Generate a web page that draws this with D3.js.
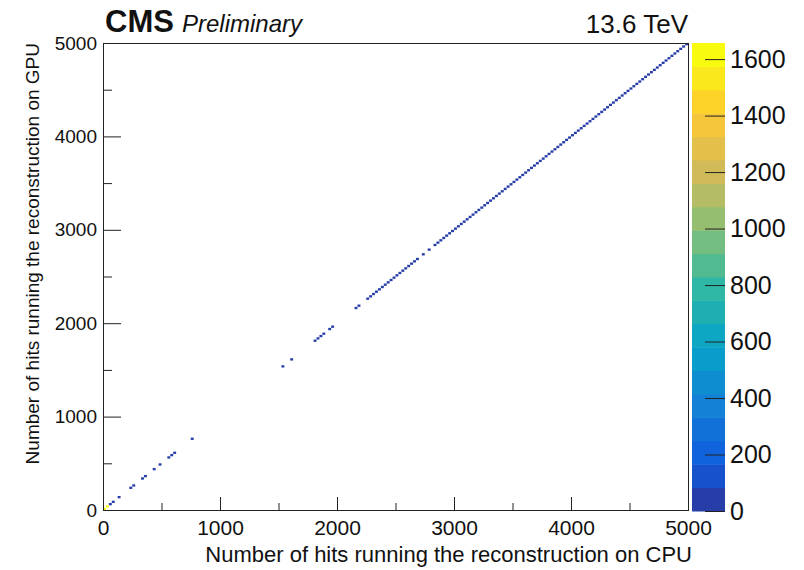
<!DOCTYPE html>
<html>
<head>
<meta charset="utf-8">
<script src="https://cdn.jsdelivr.net/npm/d3@7"></script>
<style>
	body { margin: 0; background: #fff; }
	text { font-family: "Liberation Sans", Arial, Helvetica, sans-serif; fill: #111; }
</style>
</head>
<body>
<div id="chart"></div>
<script>
// histogram binning (200 bins from 0 to 5000 hits on both axes)
const hitsRange = [0, 5000];
const binWidth = 25;

// occupied diagonal bins (bin index, CPU bin == GPU bin)
const occupiedBins = [
	2, 3, 5, 9, 10, 13, 14, 17, 19, 22, 23, 24, 30,
	61, 64, 72, 73, 74, 75, 77, 78, 86, 87,
	90, 91, 92, 93, 94, 95, 96, 97, 98, 99, 100, 101, 102, 103, 104, 105, 106, 107,
	109, 111,
	113, 114, 115, 116, 117, 118, 119, 120, 121, 122, 123, 124, 125, 126, 127, 128,
	129, 130, 131, 132, 133, 134, 135, 136, 137, 138, 139, 140, 141, 142, 143, 144,
	145, 146, 147, 148, 149, 150, 151, 152, 153, 154, 155, 156, 157, 158, 159, 160,
	161, 162, 163, 164, 165, 166, 167, 168, 169, 170, 171, 172, 173, 174, 175, 176,
	177, 178, 179, 180, 181, 182, 183, 184, 185, 186, 187, 188, 189, 190, 191, 192,
	193, 194, 195, 196, 197, 198, 199
];
const occupiedCount = 30;

// very full bins at the origin
const originBins = [0, 1];
const originCounts = [1657, 1600];

const xTicks = [0, 1000, 2000, 3000, 4000, 5000];
const xMinorTicks = [500, 1500, 2500, 3500, 4500];
const yTicks = [0, 1000, 2000, 3000, 4000, 5000];
const yMinorTicks = [500, 1500, 2500, 3500, 4500];

const zRange = [0, 1657];
const zTicks = [0, 200, 400, 600, 800, 1000, 1200, 1400, 1600];
const zLevels = 20;

// ROOT kBird palette
const birdStops = [0.0000, 0.1250, 0.2500, 0.3750, 0.5000, 0.6250, 0.7500, 0.8750, 1.0000];
const birdRed = [0.2082, 0.0592, 0.0780, 0.0232, 0.1802, 0.5301, 0.8186, 0.9956, 0.9764];
const birdGreen = [0.1664, 0.3599, 0.5041, 0.6419, 0.7178, 0.7492, 0.7328, 0.7862, 0.9832];
const birdBlue = [0.5293, 0.8684, 0.8385, 0.7914, 0.6425, 0.4662, 0.3499, 0.1968, 0.0539];

const LAYOUT = { LEFT: 103, TOP: 43, RIGHT: 688, BOTTOM: 510, BAR_LEFT: 692, BAR_RIGHT: 725, BAR_BOTTOM: 511 };

const birdColor = d3.scaleLinear()
	.domain(birdStops)
	.range(birdStops.map((s, i) => d3.rgb(birdRed[i] * 255, birdGreen[i] * 255, birdBlue[i] * 255)));

const levelColor = function(level) {
	const idx = Math.floor((level + 0.99) * 255 / zLevels);
	return birdColor(idx / 254);
};

const countColor = function(v) {
	const level = Math.min(zLevels - 1, Math.floor(v / zRange[1] * zLevels));
	return levelColor(level);
};

const styleAxis = function(g, size) {
	g.attr('font-family', null).attr('font-size', null);
	g.selectAll('.domain').remove();
	g.selectAll('.tick line').attr('stroke', '#222');
	g.selectAll('.tick text').style('font-size', size + 'px');
};

const svg = d3.select('#chart').append('svg')
	.attr('width', 804)
	.attr('height', 570);

const x = d3.scaleLinear().domain(hitsRange).range([LAYOUT.LEFT, LAYOUT.RIGHT]);
const y = d3.scaleLinear().domain(hitsRange).range([LAYOUT.BOTTOM, LAYOUT.TOP]);
const z = d3.scaleLinear().domain(zRange).range([LAYOUT.BAR_BOTTOM, LAYOUT.TOP]);

// bins
const bins = occupiedBins.map(b => ({ bin: b, count: occupiedCount }))
	.concat(originBins.map((b, i) => ({ bin: b, count: originCounts[i] })));

svg.append('g')
	.selectAll('rect')
	.data(bins)
	.join('rect')
		.attr('x', d => x(d.bin * binWidth))
		.attr('y', d => y((d.bin + 1) * binWidth))
		.attr('width', d => x((d.bin + 1) * binWidth) - x(d.bin * binWidth))
		.attr('height', d => y(d.bin * binWidth) - y((d.bin + 1) * binWidth))
		.attr('fill', d => countColor(d.count));

// axes
svg.append('g')
	.attr('transform', `translate(0,${LAYOUT.BOTTOM})`)
	.call(d3.axisBottom(x).tickValues(xTicks).tickSizeInner(-13).tickSizeOuter(0).tickPadding(10).tickFormat(d3.format('d')))
	.call(g => styleAxis(g, 21));

svg.append('g')
	.attr('transform', `translate(0,${LAYOUT.BOTTOM})`)
	.call(d3.axisBottom(x).tickValues(xMinorTicks).tickSizeInner(-7).tickSizeOuter(0).tickFormat(''))
	.call(g => styleAxis(g, 21));

svg.append('g')
	.attr('transform', `translate(${LAYOUT.LEFT},0)`)
	.call(d3.axisLeft(y).tickValues(yTicks).tickSizeInner(-18).tickSizeOuter(0).tickPadding(6).tickFormat(d3.format('d')))
	.call(g => styleAxis(g, 19));

svg.append('g')
	.attr('transform', `translate(${LAYOUT.LEFT},0)`)
	.call(d3.axisLeft(y).tickValues(yMinorTicks).tickSizeInner(-9).tickSizeOuter(0).tickFormat(''))
	.call(g => styleAxis(g, 19));

svg.append('rect')
	.attr('x', LAYOUT.LEFT + 0.5)
	.attr('y', LAYOUT.TOP + 0.5)
	.attr('width', LAYOUT.RIGHT - LAYOUT.LEFT)
	.attr('height', LAYOUT.BOTTOM - LAYOUT.TOP)
	.attr('fill', 'none')
	.attr('stroke', '#222')
	.attr('stroke-width', 1);

// colour bar
const levelEdges = d3.range(zLevels + 1).map(i => zRange[1] * i / zLevels);

svg.append('g')
	.selectAll('rect')
	.data(d3.range(zLevels))
	.join('rect')
		.attr('x', LAYOUT.BAR_LEFT)
		.attr('width', LAYOUT.BAR_RIGHT - LAYOUT.BAR_LEFT)
		.attr('y', i => z(levelEdges[i + 1]))
		.attr('height', i => z(levelEdges[i]) - z(levelEdges[i + 1]) + 0.5)
		.attr('fill', i => levelColor(i));

svg.append('g')
	.attr('transform', `translate(${LAYOUT.BAR_RIGHT},0)`)
	.call(d3.axisRight(z).tickValues(zTicks).tickSizeInner(-20).tickSizeOuter(0).tickPadding(5).tickFormat(d3.format('d')))
	.call(g => styleAxis(g, 25));

// titles
svg.append('text')
	.attr('x', LAYOUT.RIGHT + 4)
	.attr('y', 562)
	.attr('text-anchor', 'end')
	.style('font-size', '22px')
	.text('Number of hits running the reconstruction on CPU');

svg.append('text')
	.attr('transform', `translate(39,${LAYOUT.TOP}) rotate(-90)`)
	.attr('text-anchor', 'end')
	.style('font-size', '19px')
	.text('Number of hits running the reconstruction on GPU');

svg.append('text')
	.attr('x', 105)
	.attr('y', 32)
	.style('font-size', '31px')
	.style('font-weight', 'bold')
	.text('CMS');

svg.append('text')
	.attr('x', 182)
	.attr('y', 32)
	.style('font-size', '24px')
	.style('font-style', 'italic')
	.text('Preliminary');

svg.append('text')
	.attr('x', LAYOUT.RIGHT)
	.attr('y', 33)
	.attr('text-anchor', 'end')
	.style('font-size', '26px')
	.text('13.6 TeV');
</script>
</body>
</html>
